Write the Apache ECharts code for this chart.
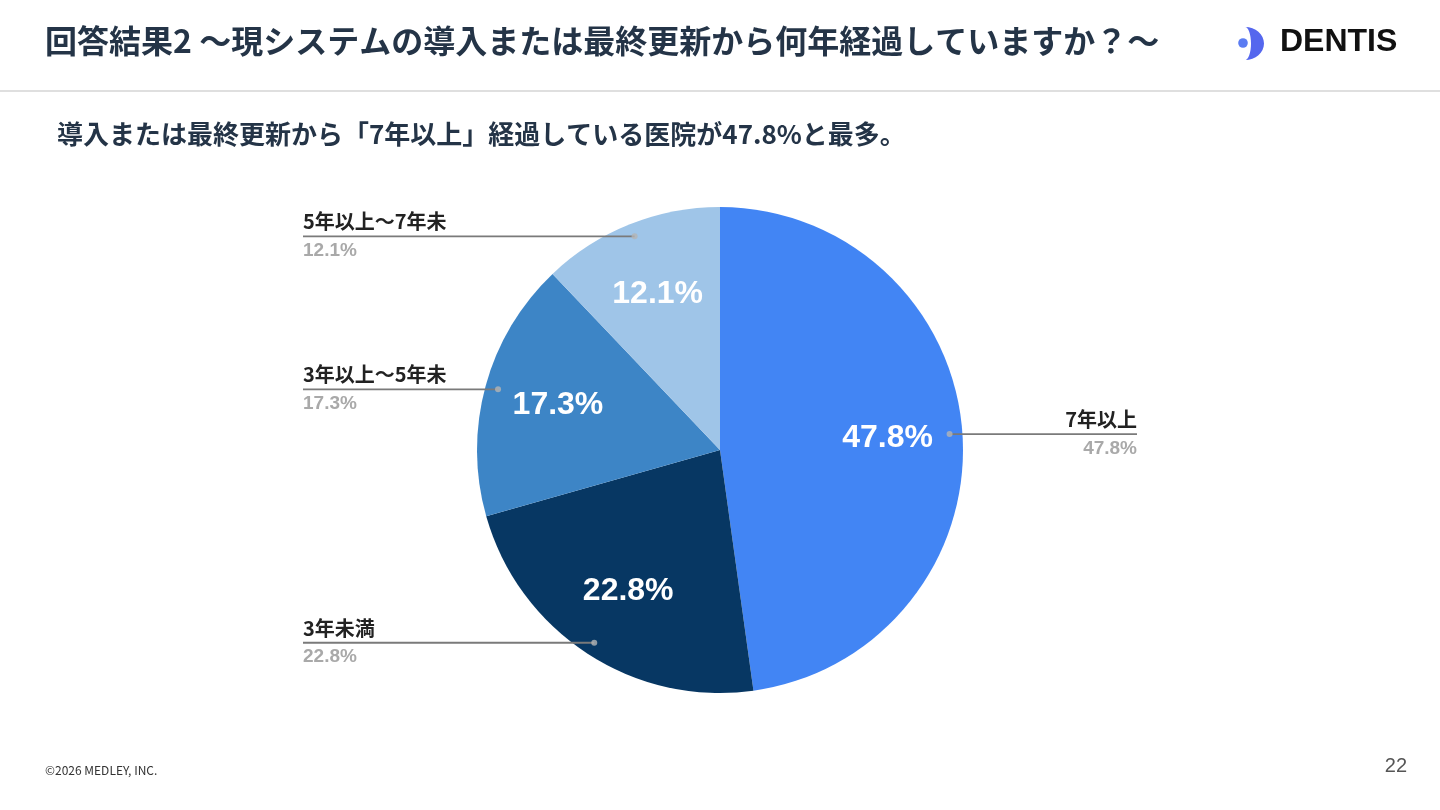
<!DOCTYPE html>
<html lang="ja">
<head>
<meta charset="utf-8">
<title>回答結果2</title>
<script src="https://cdn.jsdelivr.net/npm/echarts@6/dist/echarts.min.js"></script>
<style>
    html, body { margin: 0; padding: 0; background: #fff; }
    #chart { width: 1440px; height: 810px; }
</style>
</head>
<body>
<div id="chart"></div>
<script>
const categories = ['7年以上', '3年未満', '3年以上～5年未', '5年以上～7年未'];
const shares = [47.8, 22.8, 17.3, 12.1];
const sliceColors = ['#4285f4', '#073763', '#3d85c6', '#9fc5e8'];

const titleText = '回答結果2 ～現システムの導入または最終更新から何年経過していますか？～';
const subtitleText = '導入または最終更新から「7年以上」経過している医院が47.8%と最多。';
const footerText = '©2026 MEDLEY, INC.';
const pageNo = '22';

const CJK = '"Noto Sans CJK JP", "Noto Sans", sans-serif';
const LATIN = '"Liberation Sans", Arial, sans-serif';

const PIE_CENTER = [720, 450];
const PIE_R = 243;
const DOT_RATIO = 0.947;   // leader dots sit a bit inside the rim
const LABEL_EDGE = 303;    // outer labels keep this gap to the page edge

// middle of each slice, in share units (pie starts at 12 o'clock, clockwise)
const midShares = shares.map((v, i) => shares.slice(0, i).reduce((s, x) => s + x, 0) + v / 2);

// logo crescent
echarts.graphic.registerShape('crescent', echarts.graphic.extendShape({
    shape: { rx: 19, ry: 16.5, ix: 6 },
    buildPath(ctx, s) {
        const k = 0.5523;
        ctx.moveTo(0, -s.ry);
        ctx.bezierCurveTo(k * s.rx, -s.ry, s.rx, -k * s.ry, s.rx, 0);
        ctx.bezierCurveTo(s.rx, k * s.ry, k * s.rx, s.ry, 0, s.ry);
        ctx.bezierCurveTo(k * s.ix, s.ry, s.ix, k * s.ry, s.ix, 0);
        ctx.bezierCurveTo(s.ix, -k * s.ry, k * s.ix, -s.ry, 0, -s.ry);
        ctx.closePath();
    }
}));

const chart = echarts.init(document.getElementById('chart'));

function dotPoint(index) {
    const total = shares.reduce((s, x) => s + x, 0);
    const angle = (90 - (midShares[index] / total) * 360) * Math.PI / 180;
    const r = PIE_R * DOT_RATIO;
    return [PIE_CENTER[0] + r * Math.cos(angle), PIE_CENTER[1] - r * Math.sin(angle)];
}

const pieData = categories.map((name, i) => ({
    name: name,
    value: shares[i],
    itemStyle: { color: sliceColors[i] }
}));

// same slices again, drawn see-through on top, only to carry labels
const ghostData = categories.map((name, i) => ({ name: name, value: shares[i] }));

chart.setOption({
    animation: false,
    backgroundColor: '#fff',
    polar: { center: PIE_CENTER, radius: PIE_R },
    angleAxis: {
        type: 'value', min: 0, max: 100, startAngle: 90, clockwise: true,
        axisLine: { show: false }, axisTick: { show: false },
        axisLabel: { show: false }, splitLine: { show: false }
    },
    radiusAxis: {
        type: 'value', min: 0, max: 1,
        axisLine: { show: false }, axisTick: { show: false },
        axisLabel: { show: false }, splitLine: { show: false }
    },
    graphic: [
        {
            type: 'text', left: 45, top: 25,
            style: { text: titleText, font: `bold 32px ${CJK}`, fill: '#243447' }
        },
        {
            type: 'line',
            shape: { x1: 0, y1: 91, x2: 1440, y2: 91 },
            style: { stroke: '#d4d4d4', lineWidth: 1.5 }
        },
        {
            type: 'text', left: 57, top: 121,
            style: { text: subtitleText, font: `bold 26px ${CJK}`, fill: '#243447' }
        },
        {
            type: 'circle', shape: { cx: 1243, cy: 43, r: 4.8 },
            style: { fill: '#5b7cf2' }
        },
        {
            type: 'crescent', x: 1245, y: 43.5,
            style: { fill: '#5567ee' }
        },
        {
            type: 'text', left: 1280, top: 26,
            style: { text: 'DENTIS', font: `bold 32px ${LATIN}`, fill: '#111' }
        },
        {
            type: 'text', left: 45, top: 764,
            style: { text: footerText, font: `12px ${CJK}`, fill: '#333' }
        },
        {
            type: 'text', right: 33, top: 756,
            style: { text: pageNo, font: `20px ${LATIN}`, fill: '#555' }
        }
    ],
    series: [
        {
            type: 'pie',
            center: PIE_CENTER,
            radius: [0, PIE_R],
            startAngle: 90,
            clockwise: true,
            silent: true,
            z: 2,
            data: pieData,
            label: { show: false },
            labelLine: { show: false }
        },
        {
            type: 'pie',
            center: PIE_CENTER,
            radius: [87, PIE_R],
            startAngle: 90,
            clockwise: true,
            silent: true,
            z: 3,
            data: ghostData,
            itemStyle: { color: 'rgba(0,0,0,0)' },
            label: {
                show: true,
                position: 'inside',
                formatter: '{c}%',
                color: '#fff',
                fontFamily: LATIN,
                fontWeight: 'bold',
                fontSize: 32
            },
            labelLine: { show: false }
        },
        {
            type: 'pie',
            center: PIE_CENTER,
            radius: [0, PIE_R],
            startAngle: 90,
            clockwise: true,
            avoidLabelOverlap: false,
            silent: true,
            z: 4,
            data: ghostData,
            itemStyle: { color: 'rgba(0,0,0,0)' },
            label: {
                show: true,
                position: 'outside',
                formatter: (p) => `{n|${p.name}}\n{v|${p.value}%}`,
                rich: {
                    n: { fontFamily: CJK, fontWeight: 'bold', fontSize: 20, color: '#222', lineHeight: 29 },
                    v: { fontFamily: LATIN, fontWeight: 'bold', fontSize: 19, color: '#a9a9a9', lineHeight: 29 }
                }
            },
            labelLine: {
                show: true, showAbove: true, length: 0, length2: 10,
                lineStyle: { color: '#7a7a7a', width: 1.8 }
            },
            labelLayout: (params) => {
                const [sx, sy] = dotPoint(params.dataIndex);
                const right = sx > PIE_CENTER[0];
                const ex = right ? chart.getWidth() - LABEL_EDGE : LABEL_EDGE;
                return {
                    x: ex,
                    y: sy,
                    align: right ? 'right' : 'left',
                    verticalAlign: 'middle',
                    labelLinePoints: [[sx, sy], [ex, sy], [ex, sy]]
                };
            }
        },
        {
            type: 'scatter',
            coordinateSystem: 'polar',
            silent: true,
            z: 6,
            symbolSize: 6,
            data: midShares.map((m) => [DOT_RATIO, m]),
            itemStyle: { color: '#b4b4b4' }
        }
    ]
});

window.addEventListener('resize', () => chart.resize());
</script>
</body>
</html>
